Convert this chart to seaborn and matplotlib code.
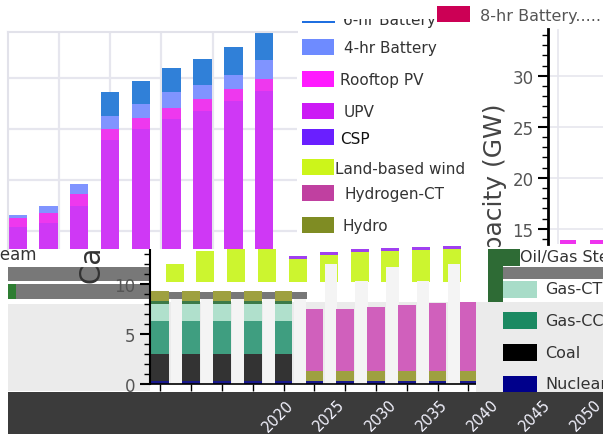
import numpy as np
import matplotlib
matplotlib.use("Agg")
import matplotlib.pyplot as plt
from matplotlib.patches import Rectangle
from matplotlib.ticker import MultipleLocator
import seaborn as sns

W, H = 603, 435

# top-left panel: solar + storage build-out (GW)
top_years = [2021, 2024, 2027, 2030, 2033, 2036, 2039, 2042, 2045]
top_upv = [5.4, 5.8, 7.5, 13.9, 15.0, 16.0, 16.8, 17.7, 18.7]
top_rooftop = [0.9, 1.0, 1.1, 1.1, 1.1, 1.1, 1.1, 1.2, 1.2]
top_bat4 = [0.3, 0.7, 1.0, 1.3, 1.3, 1.5, 1.4, 1.4, 1.9]
top_bat6 = [0.0, 0.0, 0.0, 2.3, 2.3, 2.4, 2.6, 2.7, 2.7]

# right panel: only the bar tops peek in at the bottom
right_years = [2030, 2033]
right_tops = [13.85, 13.85]

# lower panel: firm capacity (GW)
low_years = [2008, 2011, 2014, 2017, 2020, 2023, 2026, 2029, 2032, 2035, 2038]
low_nuclear = [0.3, 0.3, 0.3, 0.3, 0.3, 0.3, 0.3, 0.3, 0.3, 0.3, 0.3]
low_coal = [2.7, 2.7, 2.7, 2.7, 2.7, 0, 0, 0, 0, 0, 0]
low_gas_cc = [3.3, 3.3, 3.3, 3.3, 3.3, 0, 0, 0, 0, 0, 0]
low_gas_ct = [1.7, 1.7, 1.7, 1.7, 1.7, 0, 0, 0, 0, 0, 0]
low_steam = [0.3, 0.3, 0.3, 0.3, 0.3, 0, 0, 0, 0, 0, 0]
low_hydro = [1.0, 1.0, 1.0, 1.0, 1.0, 1.0, 1.0, 1.0, 1.0, 1.0, 1.0]
low_h2ct = [0, 0, 0, 0, 0, 6.2, 6.2, 6.4, 6.6, 6.8, 6.9]

# second (shifted) bar layer showing between the lower bars
mid_years = [2009.4, 2012.4, 2015.4, 2018.4, 2021.4, 2024.4, 2027.4, 2030.4, 2033.4, 2036.4]
mid_wind_top = [12.0, 13.3, 13.7, 13.8, 12.8, 13.2, 13.5, 13.6, 13.7, 13.8]
mid_upv_cap = [0, 0, 0, 0, 0.3, 0.3, 0.3, 0.3, 0.3, 0.3]
mid_steam_top = [9.2, 9.2, 9.2, 9.2, 9.2, 0, 0, 0, 0, 0]
mid_ghost_top = [8.5, 8.5, 8.5, 8.5, 8.5, 12.0, 10.3, 11.7, 10.3, 12.0]
wind_base = 10.2
steam_base = 8.5

band_years = [2020, 2025, 2030, 2035, 2040, 2045, 2050]
band_labels = ["2020", "2025", "2030", "2035", "2040", "2045", "2050"]

top_leg_labels = ["4-hr Battery", "Rooftop PV", "UPV", "CSP", "Land-based wind", "Hydrogen-CT", "Hydro"]
top_leg_colors = ["#6E8BFF", "#FF1AFF", "#CC1AF5", "#6A1FFF", "#CCF51A", "#C040A0", "#7F8C23"]
top_leg_y = [48, 80, 112, 138, 168, 194, 226]
top_leg_tx = [344, 340, 344, 340, 335, 344, 342]

low_leg_labels = ["Gas-CT", "Gas-CC", "Coal", "Nuclear"]
low_leg_colors = ["#A8DCC8", "#1B8A62", "#000000", "#00008B"]
low_leg_y = [290, 321, 353, 385]


def fig_rect(x0, y0, x1, y1):
    return [x0 / W, 1 - y1 / H, (x1 - x0) / W, (y1 - y0) / H]


def add_box(fig, x0, y0, x1, y1, color, z):
    fig.add_artist(Rectangle((x0 / W, 1 - y1 / H), (x1 - x0) / W, (y1 - y0) / H,
                             transform=fig.transFigure, facecolor=color,
                             edgecolor="none", zorder=z))


def add_text(fig, x, y, s, size, z, color="#333333", **kw):
    kw.setdefault("va", "center")
    fig.text(x / W, 1 - y / H, s, fontsize=size, color=color, zorder=z, **kw)


def sns_stack(ax, x, layers, colors, width):
    """Stacked bars via seaborn: draw cumulative totals, tallest first"""
    totals = np.cumsum(np.array(layers, dtype=float), axis=0)
    for tot, col in reversed(list(zip(totals, colors))):
        sns.barplot(x=x, y=tot, native_scale=True, width=width, color=col,
                    saturation=1, errorbar=None, linewidth=0, ax=ax)


sns.set_theme(style="white")
plt.rcParams["font.family"] = ["DejaVu Sans"]

fig = plt.figure(figsize=(W / 100, H / 100), dpi=100)

# ---------- lower panel ----------
ax_low = fig.add_axes(fig_rect(150, 245, 490, 385), zorder=1)
ax_low.set_facecolor("white")
ax_low.axhspan(0, 8.2, color="#EBEBEB", lw=0)
mid_wind_only = np.array(mid_wind_top) - np.array(mid_upv_cap) - wind_base
ax_low.bar(mid_years, mid_wind_only, bottom=wind_base, width=1.75, color="#CCF52F", lw=0)
ax_low.bar(mid_years, mid_upv_cap, bottom=np.array(mid_wind_top) - np.array(mid_upv_cap),
           width=1.75, color="#A040F0", lw=0)
steam_h = np.clip(np.array(mid_steam_top) - steam_base, 0, None)
ax_low.bar(mid_years, steam_h, bottom=steam_base, width=1.75, color="#777777", lw=0)
ax_low.bar(np.array(mid_years) + 0.2, mid_ghost_top, width=1.2, color="#F4F4F4", lw=0)
sns_stack(ax_low, low_years,
          [low_nuclear, low_coal, low_gas_cc, low_gas_ct, low_steam, low_hydro, low_h2ct],
          ["#1A1A8C", "#333333", "#3F9E80", "#B0E0CC", "#3C7A48", "#9EA040", "#D060BC"],
          0.57)
ax_low.set_xlim(2007.0, 2040.1)
ax_low.set_ylim(0, 14)
ax_low.set_xlabel("")
ax_low.set_ylabel("")
ax_low.set_yticks([0, 5, 10])
ax_low.yaxis.set_minor_locator(MultipleLocator(1))
ax_low.set_xticks(low_years)
ax_low.set_xticklabels([])
ax_low.tick_params(axis="y", which="major", length=7, width=1.5, color="black",
                   labelsize=12, labelcolor="#555555", direction="out", left=True)
ax_low.tick_params(axis="y", which="minor", length=4, width=1, color="black", left=True)
ax_low.tick_params(axis="x", length=5, width=1, color="black", bottom=True)
for side in ["top", "right"]:
    ax_low.spines[side].set_visible(False)
ax_low.spines["left"].set_color("black")
ax_low.spines["left"].set_linewidth(1.5)
ax_low.spines["bottom"].set_color("black")
ax_low.spines["bottom"].set_linewidth(1.2)

# left strip of the lower section (behind the lower axes' tick labels)
add_box(fig, 8, 268, 150, 282, "#787878", 0.9)
add_box(fig, 8, 285, 150, 300, "#787878", 0.9)
add_box(fig, 8, 285, 16, 300, "#2E7D32", 0.95)
add_box(fig, 8, 305, 150, 392, "#EBEBEB", 0.9)
add_text(fig, 36, 255, "Oil/Gas Steam", 12, 1.2, ha="right")
add_text(fig, 93, 284, "Capacity (GW)", 20, 1.2, rotation=90, ha="center", va="bottom")

# ---------- top-left panel ----------
ax_top = fig.add_axes(fig_rect(8, 33, 297, 250), zorder=2)
ax_top.set_facecolor("white")
sns_stack(ax_top, top_years, [top_upv, top_rooftop, top_bat4, top_bat6],
          ["#CF38F5", "#EE38EE", "#8094FF", "#3080D8"], 0.6)
ax_top.set_xlim(2020.07, 2048.2)
ax_top.set_ylim(3.24, 24.5)
ax_top.set_xticks([2025, 2030, 2035, 2040, 2045])
ax_top.set_yticks([5, 10, 15, 20])
ax_top.set_xticklabels([])
ax_top.set_yticklabels([])
ax_top.set_xlabel("")
ax_top.set_ylabel("")
ax_top.tick_params(length=0)
ax_top.set_axisbelow(True)
ax_top.grid(True, color="#E6E6EE", lw=1.6)
for side in ["right", "bottom"]:
    ax_top.spines[side].set_visible(False)
for side in ["left", "top"]:
    ax_top.spines[side].set_color("#E2E2EA")
    ax_top.spines[side].set_linewidth(1.5)

# ---------- right panel ----------
ax_r = fig.add_axes(fig_rect(548, 30, 603, 245), zorder=2)
ax_r.set_facecolor("white")
sns.barplot(x=right_years, y=right_tops, native_scale=True, width=0.55, color="#EE33EE",
            saturation=1, errorbar=None, linewidth=0, ax=ax_r)
ax_r.set_xlim(2028, 2033.5)
ax_r.set_ylim(13.5, 34.6)
ax_r.set_xticks([2029])
ax_r.set_xticklabels([])
ax_r.set_yticks([15, 20, 25, 30])
ax_r.yaxis.set_minor_locator(MultipleLocator(1))
ax_r.set_xlabel("")
ax_r.set_ylabel("")
ax_r.grid(True, color="#E6E6EE", lw=1.2)
ax_r.set_axisbelow(True)
ax_r.tick_params(axis="x", length=0)
ax_r.tick_params(axis="y", which="major", length=7, width=1.5, color="black",
                 labelsize=12, labelcolor="#555555", direction="out", left=True)
ax_r.tick_params(axis="y", which="minor", length=4, width=1, color="black", left=True)
for side in ["top", "right", "bottom"]:
    ax_r.spines[side].set_visible(False)
ax_r.spines["left"].set_color("black")
ax_r.spines["left"].set_linewidth(2)
add_text(fig, 495, 284, "Capacity (GW)", 18, 2.1, color="#444444",
         rotation=90, ha="center", va="bottom")

# ---------- top legend ----------
add_box(fig, 298, 0, 478, 246, "white", 2.5)
add_text(fig, 343, 21, "6-hr Battery", 11, 2.6)
add_box(fig, 298, 0, 436, 20, "white", 2.7)
add_box(fig, 302, 21.5, 335, 23.5, "#1F6FE0", 2.8)
for lab, col, yc, tx in zip(top_leg_labels, top_leg_colors, top_leg_y, top_leg_tx):
    add_box(fig, 302, yc - 8, 334, yc + 8, col, 2.8)
    add_text(fig, tx, yc + 1, lab, 11, 2.8, color="#111111" if lab == "CSP" else "#333333")
add_box(fig, 437, 7, 470, 23, "#CC0055", 2.8)
add_text(fig, 480, 16, "8-hr Battery.....", 11.5, 2.8, color="#555555")

# ---------- lower-right legend ----------
add_box(fig, 476, 248, 603, 303, "white", 3)
add_box(fig, 476, 303, 603, 395, "#EBEBEB", 3)
add_box(fig, 488, 250, 520, 267, "#2E6B35", 3.1)
add_box(fig, 488, 267, 503, 303, "#2E6B35", 3.1)
add_box(fig, 503, 268, 603, 280, "#7A7A7A", 3.1)
add_text(fig, 520, 258, "Oil/Gas Steam", 11.5, 3.2)
for lab, col, yc in zip(low_leg_labels, low_leg_colors, low_leg_y):
    add_box(fig, 503, yc - 8.5, 537, yc + 8.5, col, 3.2)
    add_text(fig, 545, yc, lab, 11.5, 3.2)

# ---------- dark band with year labels ----------
ax_band = fig.add_axes(fig_rect(8, 393, 603, 435), zorder=4)
ax_band.set_facecolor("#3B3B3B")
ax_band.set_xlim(1993.71, 2051.65)
ax_band.set_ylim(0, 1)
ax_band.set_xticks([])
ax_band.set_yticks([])
for side in ax_band.spines:
    ax_band.spines[side].set_visible(False)
for yr, lab in zip(band_years, band_labels):
    ax_band.text(yr, 0.45, lab, rotation=45, ha="center", va="center",
                 color="#F4F4FF", fontsize=10.5)

fig.savefig("out.png", dpi=100, facecolor="white")
